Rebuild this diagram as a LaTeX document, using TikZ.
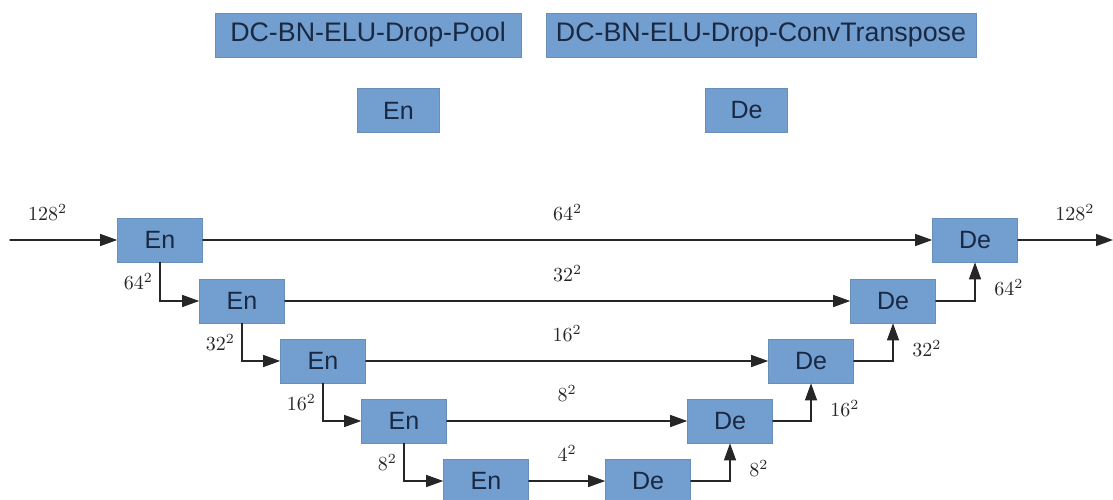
\documentclass[tikz,border=0pt]{standalone}
\usepackage{fontspec}
\newfontfamily\boxfont{Liberation Sans}
\usetikzlibrary{arrows.meta}
\definecolor{boxblue}{RGB}{114,159,207}
\definecolor{boxtext}{RGB}{26,40,66}

\begin{document}
\begin{tikzpicture}[x=0.5pt, y=-0.5pt, line cap=round,
  blk/.style={fill=boxblue, draw=boxblue!90!black, line width=0.3pt, text=boxtext,
    font=\boxfont\fontsize{12.5}{14}\selectfont, minimum width=42.5pt, minimum height=22pt, inner sep=0pt},
  legend/.style={blk, font=\boxfont\fontsize{13.4}{16}\selectfont},
  flow/.style={-{Triangle[length=8.5pt,width=6pt]}, line width=0.6pt, black!85},
  size/.style={font=\normalsize}]
  \useasboundingbox (0,0) rectangle (1113,499);
  % ---------- legend ----------
  \node[legend, minimum width=153pt] (poolkey) at (368,35) {DC-BN-ELU-Drop-Pool};
  \node[legend, minimum width=215pt] (convkey) at (761,35) {DC-BN-ELU-Drop-ConvTranspose};
  \node[blk, minimum width=41pt] (enkey) at (398.5,110.5) {En};
  \node[blk, minimum width=41pt] (dekey) at (746.5,110.5) {De};
  % ---------- encoder / decoder blocks ----------
  \foreach \i/\xe/\xd/\y in {1/160/975/240, 2/242/893/301, 3/323/811/361, 4/404/730/421, 5/486/648/481}
    {\node[blk] (en\i) at (\xe,\y) {En};
     \node[blk] (de\i) at (\xd,\y) {De};}
  % ---------- input and output ----------
  \coordinate (in) at (10,240);
  \coordinate (out) at (1113,240);
  \draw[flow] (in) -- node[size, pos=0.35, above=6pt] {$128^2$} (en1.west);
  \draw[flow] (de1.east) -- node[size, pos=0.6, above=6pt] {$128^2$} (out);
  % ---------- skip connections ----------
  \foreach \i/\s in {1/64, 2/32, 3/16, 4/8, 5/4}
    {\draw[flow] (en\i.east) -- node[size, above=6pt] {$\s^2$} (de\i.west);}
  % ---------- down / up paths ----------
  \foreach \i/\j/\s in {1/2/64, 2/3/32, 3/4/16, 4/5/8}
    {\draw[flow] (en\i.south) |- node[size, pos=0.25, left] {$\s^2$} (en\j.west);
     \draw[flow] (de\j.east) -| node[size, pos=0.75, right=6pt, yshift=-3pt] {$\s^2$} (de\i.south);}
\end{tikzpicture}
\end{document}
